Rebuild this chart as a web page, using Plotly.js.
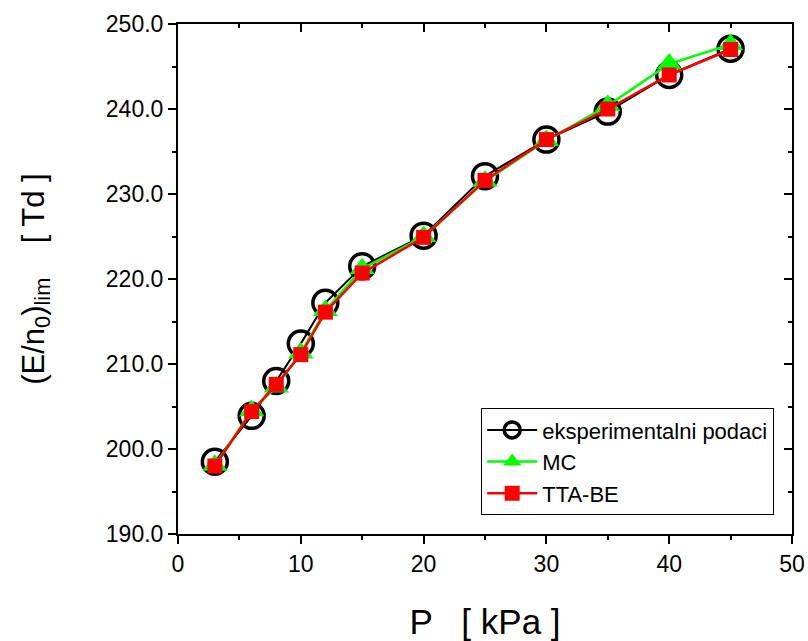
<!DOCTYPE html>
<html>
<head>
<meta charset="utf-8">
<script src="https://cdn.plot.ly/plotly-3.0.1.min.js"></script>
<style>html,body{margin:0;padding:0;background:#fff;}#chart{width:808px;height:641px;}</style>
</head>
<body>
<div id="chart"></div>
<script>
const pressure = [3, 6, 8, 10, 12, 15, 20, 25, 30, 35, 40, 45];
const expValues = [198.5, 203.9, 208.0, 212.4, 217.2, 221.5, 225.1, 232.1, 236.4, 239.7, 244.0, 247.1];
const mcValues  = [198.1, 204.5, 207.3, 211.3, 216.3, 221.2, 225.0, 231.5, 236.3, 240.4, 245.3, 247.6];
const ttaValues = [198.0, 204.4, 207.6, 211.1, 216.1, 220.7, 224.9, 231.6, 236.4, 240.0, 244.0, 247.0];
const seriesNames = ["eksperimentalni podaci", "MC", "TTA-BE"];

const FONT = "Liberation Sans, Arial, sans-serif";

const traces = [
  {
    x: pressure, y: expValues, name: seriesNames[0], mode: "lines+markers",
    line: {color: "#000000", width: 2},
    marker: {symbol: "circle-open", size: 25, color: "#000000", line: {width: 3.5, color: "#000000"}}
  },
  {
    x: pressure, y: mcValues, name: seriesNames[1], mode: "lines+markers",
    line: {color: "#00ff00", width: 2.5},
    marker: {symbol: "triangle-up", size: 22, color: "#00ff00"}
  },
  {
    x: pressure, y: ttaValues, name: seriesNames[2], mode: "lines+markers",
    line: {color: "#ff0000", width: 2.5},
    marker: {symbol: "square", size: 15, color: "#ff0000"}
  },
  {x: [], y: [], xaxis: "x2", yaxis: "y2", showlegend: false, hoverinfo: "skip"}
];

const layout = {
  width: 808, height: 641,
  margin: {l: 178, r: 16, t: 24, b: 107},
  paper_bgcolor: "#ffffff", plot_bgcolor: "#ffffff",
  font: {family: FONT, color: "#000000", size: 23},
  showlegend: true,
  legend: {
    x: 0.971, y: 0.037, xanchor: "right", yanchor: "bottom",
    bordercolor: "#000000", borderwidth: 1, bgcolor: "#ffffff",
    font: {family: FONT, size: 22}, tracegroupgap: 0, itemwidth: 50
  },
  xaxis: {
    range: [0, 50], dtick: 10, tick0: 0,
    showgrid: false, zeroline: false,
    showline: true, linewidth: 2, linecolor: "#000000",
    ticks: "outside", ticklen: 8, tickwidth: 2, tickcolor: "#000000",
    minor: {dtick: 5, ticks: "outside", ticklen: 4, tickwidth: 2, tickcolor: "#000000"},
    tickfont: {family: FONT, size: 23},
    title: {text: "P   [ kPa ]", font: {family: FONT, size: 35}, standoff: 34}
  },
  yaxis: {
    range: [190, 250], dtick: 10, tick0: 190, tickformat: ".1f",
    showgrid: false, zeroline: false,
    showline: true, linewidth: 2, linecolor: "#000000",
    ticks: "outside", ticklen: 8, tickwidth: 2, tickcolor: "#000000",
    minor: {dtick: 5, ticks: "outside", ticklen: 4, tickwidth: 2, tickcolor: "#000000"},
    tickfont: {family: FONT, size: 23},
    title: {text: "(E/n<sub>0</sub>)<sub>lim</sub>    [ Td ]", font: {family: FONT, size: 31}, standoff: 52}
  },
  xaxis2: {
    overlaying: "x", side: "top", anchor: "y2", range: [0, 50], dtick: 10, tick0: 0,
    showgrid: false, zeroline: false, showticklabels: false,
    showline: true, linewidth: 2, linecolor: "#000000",
    ticks: "inside", ticklen: 8, tickwidth: 2, tickcolor: "#000000",
    minor: {dtick: 5, ticks: "inside", ticklen: 4, tickwidth: 2, tickcolor: "#000000"}
  },
  yaxis2: {
    overlaying: "y", side: "right", anchor: "x2", range: [190, 250], dtick: 10, tick0: 190,
    showgrid: false, zeroline: false, showticklabels: false,
    showline: true, linewidth: 2, linecolor: "#000000",
    ticks: "inside", ticklen: 8, tickwidth: 2, tickcolor: "#000000",
    minor: {dtick: 5, ticks: "inside", ticklen: 4, tickwidth: 2, tickcolor: "#000000"}
  }
};

Plotly.newPlot("chart", traces, layout, {displayModeBar: false, staticPlot: true});
</script>
</body>
</html>
